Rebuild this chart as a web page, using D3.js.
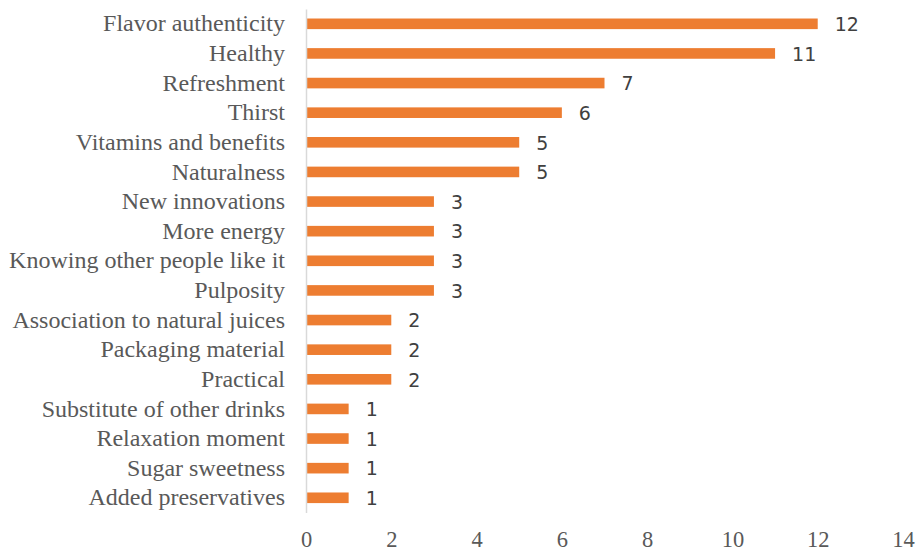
<!DOCTYPE html>
<html>
<head>
<meta charset="utf-8">
<script src="https://cdn.jsdelivr.net/npm/d3@7"></script>
<style>
  html, body { margin: 0; padding: 0; background: #fff; }
  svg { display: block; }
</style>
</head>
<body>
<div id="chart"></div>
<script>
// Reasons for choosing the drink, top to bottom
const reasons = [
  "Flavor authenticity",
  "Healthy",
  "Refreshment",
  "Thirst",
  "Vitamins and benefits",
  "Naturalness",
  "New innovations",
  "More energy",
  "Knowing other people like it",
  "Pulposity",
  "Association to natural juices",
  "Packaging material",
  "Practical",
  "Substitute of other drinks",
  "Relaxation moment",
  "Sugar sweetness",
  "Added preservatives"
];
const counts = [12, 11, 7, 6, 5, 5, 3, 3, 3, 3, 2, 2, 2, 1, 1, 1, 1];
const xTicks = [0, 2, 4, 6, 8, 10, 12, 14];

const width = 919, height = 554;
const margin = { top: 9, right: 16, bottom: 41, left: 306 };

const svg = d3.select("#chart")
  .append("svg")
  .attr("width", width)
  .attr("height", height);

const x = d3.scaleLinear()
  .domain([0, 14])
  .range([margin.left, width - margin.right]);

const y = d3.scaleBand()
  .domain(reasons)
  .range([margin.top, height - margin.bottom - 0.4])
  .paddingInner(0.642)
  .paddingOuter(0.321);

const rows = reasons.map((r, i) => ({ reason: r, value: counts[i] }));

// Bars
svg.selectAll("rect.bar")
  .data(rows)
  .join("rect")
  .attr("class", "bar")
  .attr("x", x(0))
  .attr("y", d => y(d.reason))
  .attr("width", d => x(d.value) - x(0))
  .attr("height", y.bandwidth())
  .attr("fill", "#ED7D31");

// Category axis (vertical line + labels)
const yAxis = svg.append("g")
  .attr("transform", `translate(${x(0)},0)`)
  .call(d3.axisLeft(y).tickSize(0).tickSizeOuter(0).tickPadding(21));

yAxis.select(".domain")
  .attr("stroke", "#D9D9D9")
  .attr("stroke-width", 1.5);

yAxis.selectAll("text")
  .attr("font-family", "'Liberation Serif', 'Times New Roman', serif")
  .attr("font-size", 24)
  .attr("fill", "#595959");

// Value axis labels
const xAxis = svg.append("g")
  .attr("transform", `translate(0,${height - margin.bottom})`)
  .call(d3.axisBottom(x).tickValues(xTicks).tickSize(0).tickPadding(18));

xAxis.select(".domain").remove();

xAxis.selectAll("text")
  .attr("font-family", "'Liberation Serif', 'Times New Roman', serif")
  .attr("font-size", 22.5)
  .attr("fill", "#595959");

// Value labels
svg.selectAll("text.value")
  .data(rows)
  .join("text")
  .attr("class", "value")
  .attr("x", d => x(d.value) + 17)
  .attr("y", d => y(d.reason) + y.bandwidth() / 2)
  .attr("dy", "0.38em")
  .attr("font-family", "'DejaVu Sans', sans-serif")
  .attr("font-size", 19)
  .attr("fill", "#404040")
  .text(d => d.value);
</script>
</body>
</html>
